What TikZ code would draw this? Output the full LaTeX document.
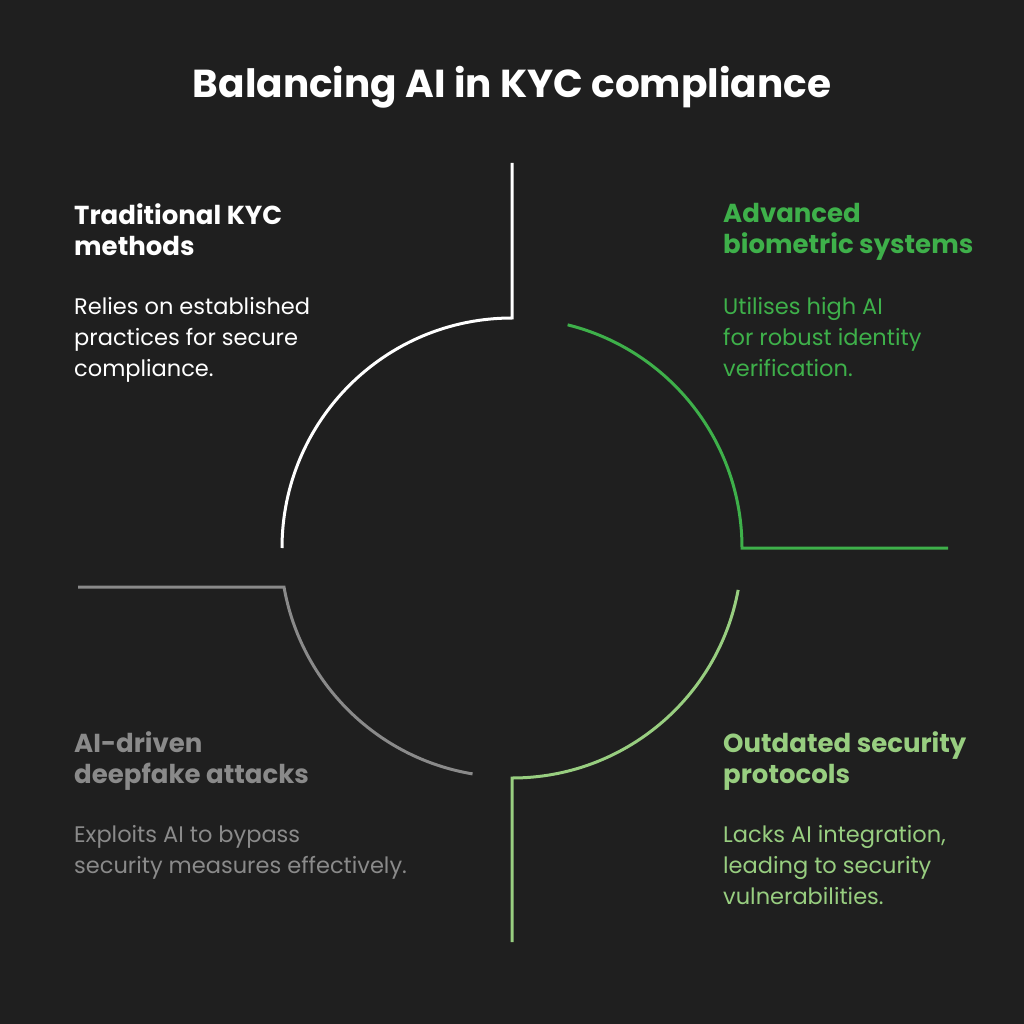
\documentclass[tikz,border=0pt]{standalone}
\usepackage{fontspec}
\setmainfont{Poppins}
\usetikzlibrary{positioning}
\definecolor{bggray}{RGB}{31,31,31}
\definecolor{leafgreen}{RGB}{62,176,74}
\definecolor{palegreen}{RGB}{152,206,128}
\definecolor{midgray}{RGB}{138,138,138}
\tikzset{
    % text styles
    headtext/.style={
        anchor=north west, inner sep=0pt, align=left,
        font=\fontsize{26}{31}\selectfont\bfseries
    },
    bodytext/.style={
        anchor=north west, inner sep=0pt, align=left,
        font=\fontsize{22.5}{31}\selectfont
    },
    ring/.style={line width=3pt}
}
\begin{document}
\begin{tikzpicture}[x=1pt,y=-1pt]
\fill[bggray] (0,0) rectangle (1024,1024);
\useasboundingbox (0,0) rectangle (1024,1024);

\node[font=\fontsize{39}{44}\selectfont\bfseries, text=white] (title) at (512,87) {Balancing AI in KYC compliance};

\coordinate (c) at (512,548);

% quarter arcs with their leads
\draw[ring, white] (512,163) -- (512,318) arc[start angle=-90, end angle=-180, radius=230];
\draw[ring, leafgreen] (c) ++(-76:230) arc[start angle=-76, end angle=0, radius=230] -- (948,548);
\draw[ring, palegreen] (c) ++(10.5:230) arc[start angle=10.5, end angle=90, radius=230] -- (512,942);
\draw[ring, midgray] (78,587) -- ++(206,0) arc[start angle=170, end angle=99.5, radius=230];

% labels
\node[headtext, text=white] (tradhead) at (74,203) {Traditional KYC\\methods};
\node[bodytext, text=white] (tradbody) at (74,297) {Relies on established\\practices for secure\\compliance.};

\node[headtext, text=leafgreen] (biohead) at (723,203) {Advanced\\biometric systems};
\node[bodytext, text=leafgreen] (biobody) at (723,297) {Utilises high AI\\for robust identity\\verification.};

\node[headtext, text=midgray] (fakehead) at (74,731) {AI-driven\\deepfake attacks};
\node[bodytext, text=midgray] (fakebody) at (74,825) {Exploits AI to bypass\\security measures effectively.};

\node[headtext, text=palegreen] (oldhead) at (723,731) {Outdated security\\protocols};
\node[bodytext, text=palegreen] (oldbody) at (723,825) {Lacks AI integration,\\leading to security\\vulnerabilities.};
\end{tikzpicture}
\end{document}
